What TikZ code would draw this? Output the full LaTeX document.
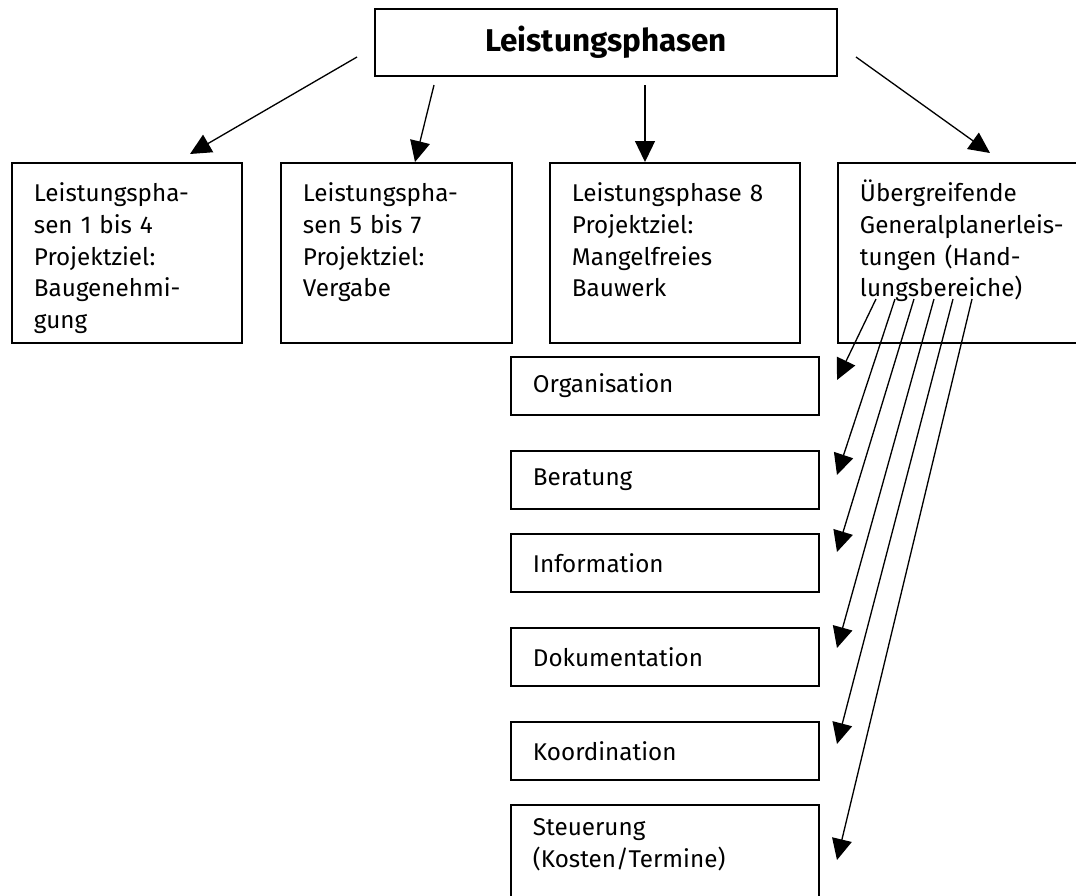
\documentclass[tikz,border=0pt]{standalone}
\usepackage{fontspec}
\setmainfont{Fira Sans}
\usepackage{tikz}
\usetikzlibrary{arrows.meta}

\tikzset{
  kasten/.style={draw, line width=1.1pt, anchor=north west, align=left,
    inner xsep=0.44cm, inner ysep=0pt, font=\fontsize{13.8}{18}\selectfont},
  phase/.style={kasten, text height=0.78cm, text depth=2.82cm},
  bereich/.style={kasten, text width=5.28cm, minimum height=1.16cm},
  pfeil/.style={-{Triangle[length=0.42cm,width=0.4cm]}, line width=0.75pt},
}

\begin{document}
\begin{tikzpicture}[x=0.02cm, y=-0.02cm]
  \clip (0,0) rectangle (1076,896);
  % oben
  \node[draw, line width=1.1pt, minimum width=9.24cm, minimum height=1.34cm,
    font=\bfseries\fontsize{17.9}{20}\selectfont] (titel) at (606,42.5) {Leistungsphasen};
  % Phasen
  \node[phase, text width=3.72cm] (lpa) at (11,162)
    {Leistungspha-\\sen 1 bis 4\\Projektziel:\\Baugenehmi-\\gung};
  \node[phase, text width=3.74cm] (lpb) at (280,162)
    {Leistungspha-\\sen 5 bis 7\\Projektziel:\\Vergabe};
  \node[phase, text width=4.12cm] (lpc) at (549,162)
    {Leistungsphase 8\\Projektziel:\\Mangelfreies\\Bauwerk};
  \node[phase, text width=4.6cm] (gpl) at (837,162)
    {Übergreifende\\Generalplanerleis-\\tungen (Hand-\\lungsbereiche)};
  % Handlungsbereiche
  \node[bereich] (org) at (510,356) {Organisation};
  \node[bereich] (ber) at (510,450) {Beratung};
  \node[bereich] (inf) at (510,533) {Information};
  \node[bereich] (dok) at (510,627) {Dokumentation};
  \node[bereich] (koo) at (510,721) {Koordination};
  \node[bereich, text height=0.62cm, text depth=4cm] (ste) at (510,804)
    {Steuerung\\(Kosten/Termine)};

  % Pfeile oben
  \coordinate (o1) at (357,57);   \coordinate (u1) at (190,154);
  \coordinate (o2) at (434,85);   \coordinate (u2) at (415,162);
  \coordinate (o3) at (645,85);   \coordinate (u3) at (645,162);
  \coordinate (o4) at (856,57);   \coordinate (u4) at (990,153);
  \draw[pfeil] (o1) -- (u1);
  \draw[pfeil] (o2) -- (u2);
  \draw[pfeil] (o3) -- (u3);
  \draw[pfeil] (o4) -- (u4);

  % Faecher
  \coordinate (s1) at (876,299);  \coordinate (t1) at (837,380);
  \coordinate (s2) at (895,299);  \coordinate (t2) at (837,475);
  \coordinate (s3) at (914,299);  \coordinate (t3) at (837,552);
  \coordinate (s4) at (934,299);  \coordinate (t4) at (837,648);
  \coordinate (s5) at (953,299);  \coordinate (t5) at (837,744);
  \coordinate (s6) at (972,299);  \coordinate (t6) at (837,860);
  \draw[pfeil] (s1) -- (t1);
  \draw[pfeil] (s2) -- (t2);
  \draw[pfeil] (s3) -- (t3);
  \draw[pfeil] (s4) -- (t4);
  \draw[pfeil] (s5) -- (t5);
  \draw[pfeil] (s6) -- (t6);
\end{tikzpicture}
\end{document}
